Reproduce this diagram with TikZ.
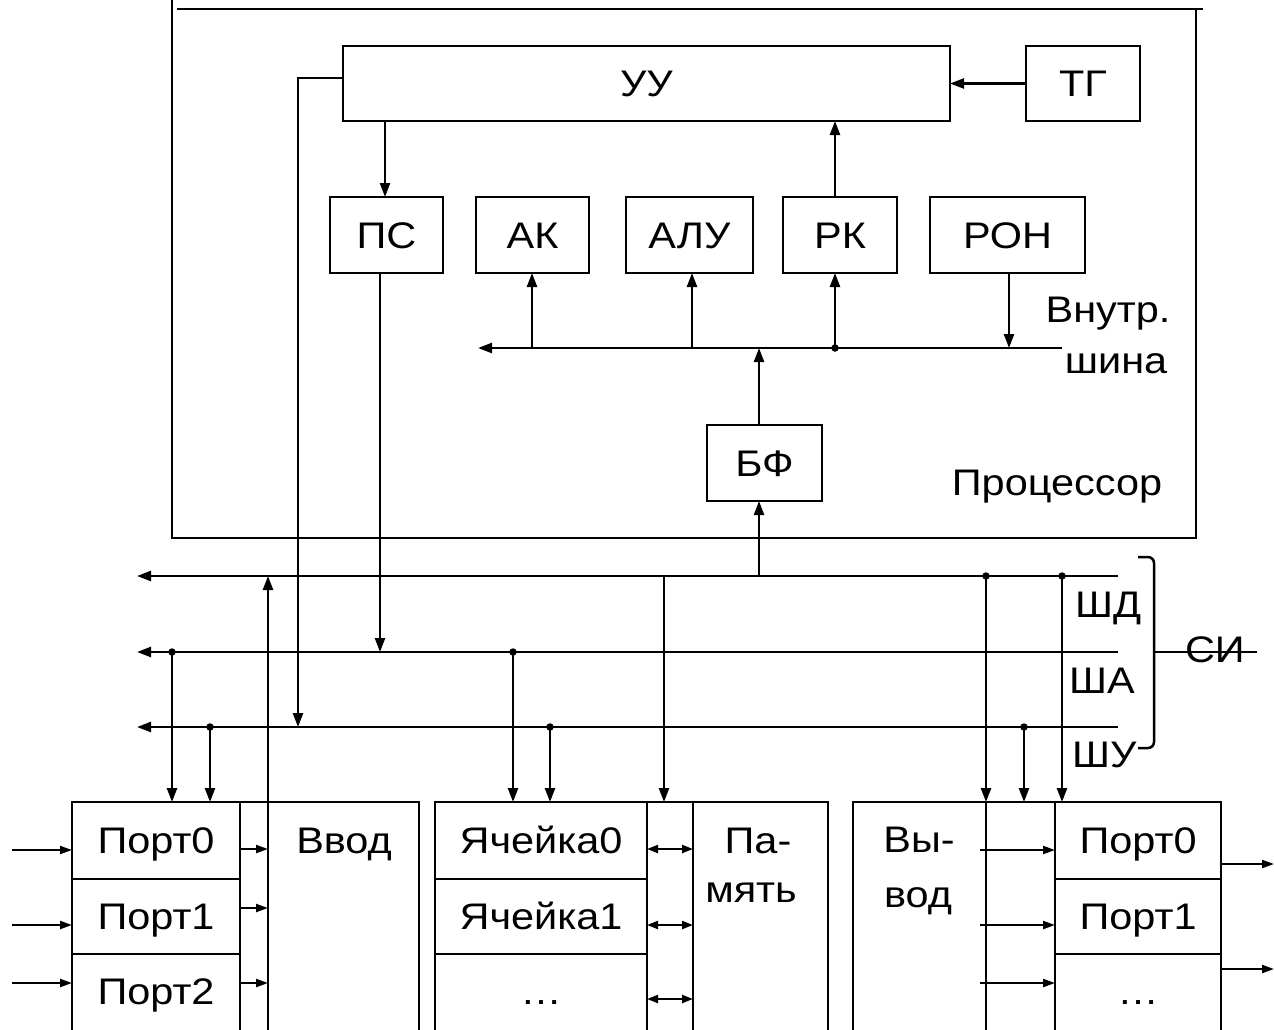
\documentclass[tikz,border=0pt]{standalone}
\usepackage{fontspec}
\setmainfont{Liberation Sans}[FakeStretch=1.12]
\usetikzlibrary{arrows.meta}
\begin{document}
\begin{tikzpicture}[x=1pt,y=-1pt,
  every node/.style={font=\fontsize{37}{44}\selectfont, inner sep=0pt, outer sep=0pt},
  box/.style={draw, line width=2.5pt, text height=26.5pt, text depth=0pt},
  cell/.style={text height=26.5pt, text depth=0pt},
  ln/.style={line width=2.5pt},
  arr/.style={line width=2.4pt, -{Triangle[length=14pt,width=10pt]}},
  sarr/.style={line width=2.2pt, -{Triangle[length=12pt,width=8pt]}},
  darr/.style={line width=2.2pt, {Triangle[length=11pt,width=8pt]}-{Triangle[length=11pt,width=8pt]}},
  dot/.style={circle, fill, inner sep=0pt, minimum size=7.5pt},
]
\useasboundingbox (0,0) rectangle (1274,1029);

% processor frame
\draw[ln] (172,0) -- (172,538) -- (1196,538) -- (1196,9);
\draw[ln] (177,9) -- (1203,9);

% processor blocks
\node[box, minimum width=607pt, minimum height=75pt] (uu) at (646.5,83.5) {УУ};
\node[box, minimum width=114pt, minimum height=75pt] (tg) at (1083,83.5) {ТГ};
\node[box, minimum width=113pt, minimum height=76pt] (ps) at (386.5,235) {ПС};
\node[box, minimum width=113pt, minimum height=76pt] (ak) at (532.5,235) {АК};
\node[box, minimum width=127pt, minimum height=76pt] (alu) at (689.5,235) {АЛУ};
\node[box, minimum width=114pt, minimum height=76pt] (rk) at (840,235) {РК};
\node[box, minimum width=155pt, minimum height=76pt] (ron) at (1007.5,235) {РОН};
\node[box, minimum width=115pt, minimum height=76pt] (bf) at (764.5,463) {БФ};

\node[anchor=base] (vn1) at (1108,322) {Внутр.};
\node[anchor=base] (vn2) at (1116,373) {шина};
\node[anchor=base] (proc) at (1057,495) {Процессор};

% internal bus
\coordinate (ibL) at (478,348);
\coordinate (ibR) at (1062,348);
\draw[arr] (ibR) -- (ibL);

\draw[arr] (tg.west) -- (uu.east);
\coordinate (xps1) at (385,121);
\draw[arr] (xps1) -- (xps1 |- ps.north);
\coordinate (xak) at (532,348);
\draw[arr] (xak) -- (xak |- ak.south);
\coordinate (xalu) at (692,348);
\draw[arr] (xalu) -- (xalu |- alu.south);
\coordinate (xrk) at (835,348);
\draw[arr] (xrk) -- (xrk |- rk.south);
\draw[arr] (xrk |- rk.north) -- (xrk |- uu.south);
\node[dot] (drk) at (xrk) {};
\coordinate (xron) at (1009,348);
\draw[arr] (xron |- ron.south) -- (xron);
\coordinate (xbf) at (759,348);
\draw[arr] (xbf |- bf.north) -- (xbf);

% system buses
\coordinate (shdL) at (137,576); \coordinate (shdR) at (1118,576);
\coordinate (shaL) at (137,652); \coordinate (shaR) at (1118,652);
\coordinate (shuL) at (137,727); \coordinate (shuR) at (1118,727);
\draw[arr] (shdR) -- (shdL);
\draw[arr] (shaR) -- (shaL);
\draw[arr] (shuR) -- (shuL);

\coordinate (xbf2) at (759,576);
\draw[arr] (xbf2) -- (xbf2 |- bf.south);
\coordinate (xps2) at (380,652);
\draw[arr] (xps2 |- ps.south) -- (xps2);
\coordinate (uuout) at (343,78);
\coordinate (xuu) at (298,727);
\draw[arr] (uuout) -- (xuu |- uuout) -- (xuu);

% bus labels and brace
\node[anchor=base west] (lshd) at (1075,617) {ШД};
\node[anchor=base west] (lsha) at (1069,693) {ША};
\node[anchor=base west] (lshu) at (1072,767) {ШУ};
\draw[ln, rounded corners=6pt] (1138,557) -- (1154,557) -- (1154,652) -- (1154,748) -- (1138,748);
\coordinate (brt) at (1154,652);
\coordinate (brend) at (1257,652);
\draw[ln] (brt) -- (brend);
\node[anchor=base west] (si) at (1185,662) {СИ};

% bottom frames
\draw[ln] (72,1040) -- (72,802) -- (419,802) -- (419,1040);
\draw[ln] (240,802) -- (240,1040);
\draw[ln] (72,879) -- (240,879);
\draw[ln] (72,954) -- (240,954);

\draw[ln] (435,1040) -- (435,802) -- (828,802) -- (828,1040);
\draw[ln] (647,802) -- (647,1040);
\draw[ln] (693,802) -- (693,1040);
\draw[ln] (435,879) -- (647,879);
\draw[ln] (435,954) -- (647,954);

\draw[ln] (853,1040) -- (853,802) -- (1221,802) -- (1221,1040);
\draw[ln] (1055,802) -- (1055,1040);
\draw[ln] (1055,879) -- (1221,879);
\draw[ln] (1055,954) -- (1221,954);

% cells
\node[cell, minimum width=168pt, minimum height=77pt] (ip0) at (156,840.5) {Порт0};
\node[cell, minimum width=168pt, minimum height=75pt] (ip1) at (156,916.5) {Порт1};
\node[cell, minimum width=168pt, minimum height=75pt] (ip2) at (156,991.5) {Порт2};
\node[anchor=base] (vvod) at (344,853) {Ввод};

\node[cell, minimum width=212pt, minimum height=77pt] (mc0) at (541,840.5) {Ячейка0};
\node[cell, minimum width=212pt, minimum height=75pt] (mc1) at (541,916.5) {Ячейка1};
\node[cell, minimum width=212pt, minimum height=75pt] (mc2) at (541,991.5) {…};
\node[anchor=base] (pam1) at (758,853) {Па-};
\node[anchor=base] (pam2) at (751,902) {мять};

\node[anchor=base] (vyv1) at (919,852) {Вы-};
\node[anchor=base] (vyv2) at (918,907) {вод};
\node[cell, minimum width=166pt, minimum height=77pt] (op0) at (1138,840.5) {Порт0};
\node[cell, minimum width=166pt, minimum height=75pt] (op1) at (1138,916.5) {Порт1};
\node[cell, minimum width=166pt, minimum height=75pt] (op2) at (1138,991.5) {…};

% bus taps
\coordinate (t1) at (172,652); \node[dot] (d1) at (t1) {};
\draw[arr] (t1) -- (t1 |- ip0.north);
\coordinate (t2) at (210,727); \node[dot] (d2) at (t2) {};
\draw[arr] (t2) -- (t2 |- ip0.north);
\coordinate (t3a) at (268,1040); \coordinate (t3) at (268,576);
\draw[arr] (t3a) -- (t3);
\coordinate (t4) at (513,652); \node[dot] (d4) at (t4) {};
\draw[arr] (t4) -- (t4 |- mc0.north);
\coordinate (t5) at (550,727); \node[dot] (d5) at (t5) {};
\draw[arr] (t5) -- (t5 |- mc0.north);
\coordinate (t6) at (664,576);
\draw[arr] (t6) -- (t6 |- mc0.north);
\coordinate (t7) at (986,576); \node[dot] (d7) at (t7) {};
\coordinate (t7b) at (986,1040);
\draw[arr] (t7) -- (t7 |- op0.north);
\draw[ln] (t7 |- op0.north) -- (t7b);
\coordinate (t8) at (1024,727); \node[dot] (d8) at (t8) {};
\draw[arr] (t8) -- (t8 |- op0.north);
\coordinate (t9) at (1062,576); \node[dot] (d9) at (t9) {};
\draw[arr] (t9) -- (t9 |- op0.north);

% input arrows
\coordinate (in0) at (12,850); \coordinate (in1) at (12,925); \coordinate (in2) at (12,983);
\draw[sarr] (in0) -- (in0 -| ip0.west);
\draw[sarr] (in1) -- (in1 -| ip1.west);
\draw[sarr] (in2) -- (in2 -| ip2.west);
\coordinate (v0) at (268,849); \coordinate (v1) at (268,908); \coordinate (v2) at (268,983);
\draw[sarr] (v0 -| ip0.east) -- (v0);
\draw[sarr] (v1 -| ip1.east) -- (v1);
\draw[sarr] (v2 -| ip2.east) -- (v2);

% memory arrows
\coordinate (m0) at (693,849); \coordinate (m1) at (693,925); \coordinate (m2) at (693,999);
\draw[darr] (m0 -| mc0.east) -- (m0);
\draw[darr] (m1 -| mc1.east) -- (m1);
\draw[darr] (m2 -| mc2.east) -- (m2);

% output arrows
\coordinate (o0) at (980,850); \coordinate (o1) at (980,925); \coordinate (o2) at (980,983);
\draw[sarr] (o0) -- (o0 -| op0.west);
\draw[sarr] (o1) -- (o1 -| op1.west);
\draw[sarr] (o2) -- (o2 -| op2.west);
\coordinate (q0) at (1274,864); \coordinate (q1) at (1274,969);
\draw[sarr] (q0 -| op0.east) -- (q0);
\draw[sarr] (q1 -| op1.east) -- (q1);
\end{tikzpicture}
\end{document}
